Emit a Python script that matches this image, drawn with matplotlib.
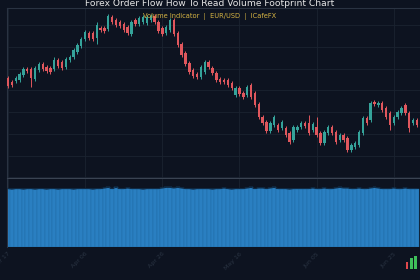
import matplotlib
matplotlib.use("Agg")
import matplotlib.pyplot as plt
import numpy as np
import pandas as pd

# daily EUR/USD candles
opens = [1.1179, 1.1169, 1.1172, 1.1174, 1.1185, 1.1199, 1.1199, 1.1176, 1.1197, 1.1211,
         1.1204, 1.1202, 1.1199, 1.1220, 1.1215, 1.1204, 1.1220, 1.1227, 1.1238, 1.1252,
         1.1268, 1.1282, 1.1282, 1.1271, 1.1294, 1.1294, 1.1291, 1.1319, 1.1312, 1.1307,
         1.1303, 1.1296, 1.1280, 1.1312, 1.1303, 1.1307, 1.1305, 1.1312, 1.1321, 1.1307,
         1.1294, 1.1282, 1.1289, 1.1312, 1.1282, 1.1257, 1.1236, 1.1213, 1.1197, 1.1188,
         1.1181, 1.1192, 1.1215, 1.1202, 1.1190, 1.1176, 1.1174, 1.1174, 1.1167, 1.1140,
         1.1156, 1.1144, 1.1140, 1.1163, 1.1144, 1.1119, 1.1089, 1.1077, 1.1057, 1.1070,
         1.1070, 1.1064, 1.1064, 1.1052, 1.1036, 1.1059, 1.1066, 1.1075, 1.1075, 1.1059,
         1.1066, 1.1052, 1.1029, 1.1052, 1.1066, 1.1054, 1.1036, 1.1047, 1.1041, 1.1013,
         1.1020, 1.1025, 1.1052, 1.1087, 1.1082, 1.1123, 1.1117, 1.1121, 1.1110, 1.1098,
         1.1075, 1.1089, 1.1098, 1.1117, 1.1098, 1.1075, 1.1082]
closes = [1.1160, 1.1163, 1.1179, 1.1188, 1.1199, 1.1195, 1.1179, 1.1202, 1.1211, 1.1199,
          1.1195, 1.1192, 1.1220, 1.1206, 1.1202, 1.1222, 1.1227, 1.1243, 1.1255, 1.1268,
          1.1284, 1.1271, 1.1268, 1.1300, 1.1289, 1.1287, 1.1321, 1.1307, 1.1300, 1.1298,
          1.1289, 1.1282, 1.1307, 1.1303, 1.1317, 1.1319, 1.1319, 1.1321, 1.1307, 1.1287,
          1.1280, 1.1296, 1.1312, 1.1280, 1.1255, 1.1232, 1.1211, 1.1192, 1.1183, 1.1181,
          1.1204, 1.1215, 1.1204, 1.1190, 1.1174, 1.1169, 1.1169, 1.1163, 1.1156, 1.1156,
          1.1142, 1.1135, 1.1158, 1.1135, 1.1117, 1.1089, 1.1075, 1.1057, 1.1075, 1.1089,
          1.1059, 1.1077, 1.1047, 1.1031, 1.1066, 1.1066, 1.1075, 1.1068, 1.1052, 1.1073,
          1.1047, 1.1029, 1.1054, 1.1066, 1.1052, 1.1031, 1.1047, 1.1036, 1.1013, 1.1025,
          1.1029, 1.1054, 1.1087, 1.1075, 1.1121, 1.1119, 1.1121, 1.1105, 1.1089, 1.1070,
          1.1089, 1.1100, 1.1110, 1.1098, 1.1064, 1.1082, 1.1070]
highs = [1.1183, 1.1174, 1.1183, 1.1192, 1.1204, 1.1204, 1.1204, 1.1206, 1.1215, 1.1215,
         1.1208, 1.1206, 1.1227, 1.1225, 1.1220, 1.1227, 1.1232, 1.1248, 1.1259, 1.1273,
         1.1289, 1.1287, 1.1287, 1.1307, 1.1298, 1.1298, 1.1326, 1.1324, 1.1317, 1.1312,
         1.1307, 1.1300, 1.1312, 1.1317, 1.1321, 1.1324, 1.1324, 1.1326, 1.1326, 1.1312,
         1.1298, 1.1300, 1.1317, 1.1317, 1.1287, 1.1262, 1.1241, 1.1218, 1.1202, 1.1192,
         1.1208, 1.1220, 1.1220, 1.1206, 1.1195, 1.1181, 1.1179, 1.1179, 1.1172, 1.1160,
         1.1160, 1.1149, 1.1163, 1.1167, 1.1149, 1.1123, 1.1093, 1.1082, 1.1080, 1.1093,
         1.1075, 1.1082, 1.1068, 1.1057, 1.1070, 1.1070, 1.1080, 1.1080, 1.1093, 1.1077,
         1.1089, 1.1057, 1.1059, 1.1070, 1.1070, 1.1059, 1.1052, 1.1052, 1.1045, 1.1029,
         1.1034, 1.1059, 1.1091, 1.1091, 1.1126, 1.1128, 1.1126, 1.1126, 1.1114, 1.1102,
         1.1093, 1.1105, 1.1114, 1.1121, 1.1102, 1.1087, 1.1087]
lows = [1.1156, 1.1158, 1.1167, 1.1169, 1.1181, 1.1190, 1.1158, 1.1172, 1.1192, 1.1195,
        1.1190, 1.1188, 1.1195, 1.1202, 1.1197, 1.1199, 1.1215, 1.1222, 1.1234, 1.1248,
        1.1264, 1.1266, 1.1264, 1.1257, 1.1284, 1.1282, 1.1287, 1.1303, 1.1296, 1.1294,
        1.1284, 1.1278, 1.1275, 1.1298, 1.1298, 1.1303, 1.1300, 1.1307, 1.1303, 1.1282,
        1.1275, 1.1278, 1.1284, 1.1275, 1.1250, 1.1227, 1.1206, 1.1188, 1.1179, 1.1176,
        1.1176, 1.1188, 1.1199, 1.1185, 1.1169, 1.1165, 1.1165, 1.1158, 1.1151, 1.1135,
        1.1137, 1.1130, 1.1135, 1.1130, 1.1112, 1.1084, 1.1070, 1.1052, 1.1052, 1.1066,
        1.1054, 1.1059, 1.1043, 1.1027, 1.1031, 1.1054, 1.1061, 1.1064, 1.1047, 1.1054,
        1.1043, 1.1025, 1.1025, 1.1047, 1.1047, 1.1027, 1.1031, 1.1031, 1.1008, 1.1008,
        1.1015, 1.1020, 1.1047, 1.1070, 1.1077, 1.1114, 1.1112, 1.1100, 1.1084, 1.1059,
        1.1070, 1.1084, 1.1093, 1.1093, 1.1054, 1.1070, 1.1066]
volumes = [98, 97, 98, 98, 97, 98, 98, 97, 98, 98,
           97, 98, 98, 97, 98, 98, 98, 97, 98, 98,
           98, 98, 97, 98, 98, 99, 100, 98, 100, 98,
           98, 99, 98, 98, 98, 97, 98, 98, 98, 98,
           99, 100, 100, 99, 100, 99, 98, 98, 97, 98,
           98, 98, 98, 97, 98, 98, 99, 98, 97, 98,
           98, 98, 99, 100, 98, 99, 99, 98, 99, 100,
           98, 98, 98, 97, 98, 98, 98, 98, 98, 99,
           98, 98, 99, 98, 98, 99, 100, 99, 99, 98,
           98, 99, 98, 98, 99, 100, 99, 98, 98, 98,
           99, 98, 98, 99, 98, 98, 98]
start_date = "2019-03-17"
price_ticks = [1.095, 1.100, 1.105, 1.110, 1.115, 1.120, 1.125, 1.130]

# little candle logo in the bottom right corner
logo_heights = [0.55, 0.8, 1.0]
logo_colors = ["#e0474c", "#3fbf5a", "#3fbf5a"]

title = "Forex Order Flow How To Read Volume Footprint Chart"
subtitle = "Volume Indicator  |  EUR/USD  |  ICafeFX"

bg = "#0d1320"
grid_c = "#1b2330"
up_c = "#35a39a"
down_c = "#e0575d"
vol_c = "#2a7fc1"

opens = np.array(opens)
closes = np.array(closes)
dates = pd.date_range(start_date, periods=len(opens), freq="D")
x = np.arange(len(opens))
up = closes >= opens
colors = np.where(up, up_c, down_c)

fig = plt.figure(figsize=(4.2, 2.8), dpi=100, facecolor=bg)
ax = fig.add_axes([7 / 420, 102 / 280, 413 / 420, 170 / 280], facecolor=bg)
axv = fig.add_axes([7 / 420, 33 / 280, 413 / 420, 68 / 280], facecolor=bg, sharex=ax)

# candles
ax.vlines(x, lows, highs, colors=colors, linewidth=0.7, zorder=2)
body_bottom = np.minimum(opens, closes)
body_h = np.maximum(np.abs(closes - opens), 0.00008)
ax.bar(x, body_h, bottom=body_bottom, width=0.62, color=colors, linewidth=0, zorder=3)

ax.set_ylim(1.09486, 1.13396)
ax.set_yticks(price_ticks)
ax.set_xlim(-0.26, 106.8)

tick_idx = list(range(0, len(x), 20))
ax.set_xticks(tick_idx)
ax.grid(True, color=grid_c, linewidth=0.6, zorder=0)
ax.tick_params(labelleft=False, labelbottom=False, length=0)
for s in ax.spines.values():
    s.set_visible(False)
ax.spines["left"].set_visible(True)
ax.spines["left"].set_color("#2a3342")
ax.spines["bottom"].set_visible(True)
ax.spines["bottom"].set_color("#3a4352")
ax.spines["top"].set_visible(True)
ax.spines["top"].set_color("#2a3342")

# volume
axv.bar(x, volumes, width=1.0, color=vol_c, edgecolor="#1f6aa3", linewidth=0.3, zorder=2)
axv.plot(x, volumes, color="#0f2a45", linewidth=0.8, zorder=3)
axv.set_ylim(0, 114)
axv.grid(True, axis="x", color=grid_c, linewidth=0.6, zorder=0)
axv.set_yticks([])
axv.set_xticks(tick_idx)
axv.set_xticklabels([dates[i].strftime("%b %d") for i in tick_idx],
                    rotation=45, ha="right", rotation_mode="anchor",
                    fontsize=4.5, color="#2a3443")
axv.tick_params(length=0, pad=3)
for s in axv.spines.values():
    s.set_visible(False)
axv.spines["left"].set_visible(True)
axv.spines["left"].set_color("#2a3342")

# logo
axl = fig.add_axes([405 / 420, 11 / 280, 15 / 420, 14 / 280], facecolor=bg)
axl.bar(range(len(logo_heights)), logo_heights, width=0.7, color=logo_colors)
axl.set_xlim(-0.5, 3.2)
axl.set_ylim(0, 1.05)
axl.axis("off")

fig.text(0.5, 0.988, title, ha="center", va="center", color="#e6e6e6", fontsize=6.6)
fig.text(0.5, 0.942, subtitle, ha="center", va="center", color="#d6b443", fontsize=4.8)

fig.savefig("out.png", dpi=100, facecolor=bg)
